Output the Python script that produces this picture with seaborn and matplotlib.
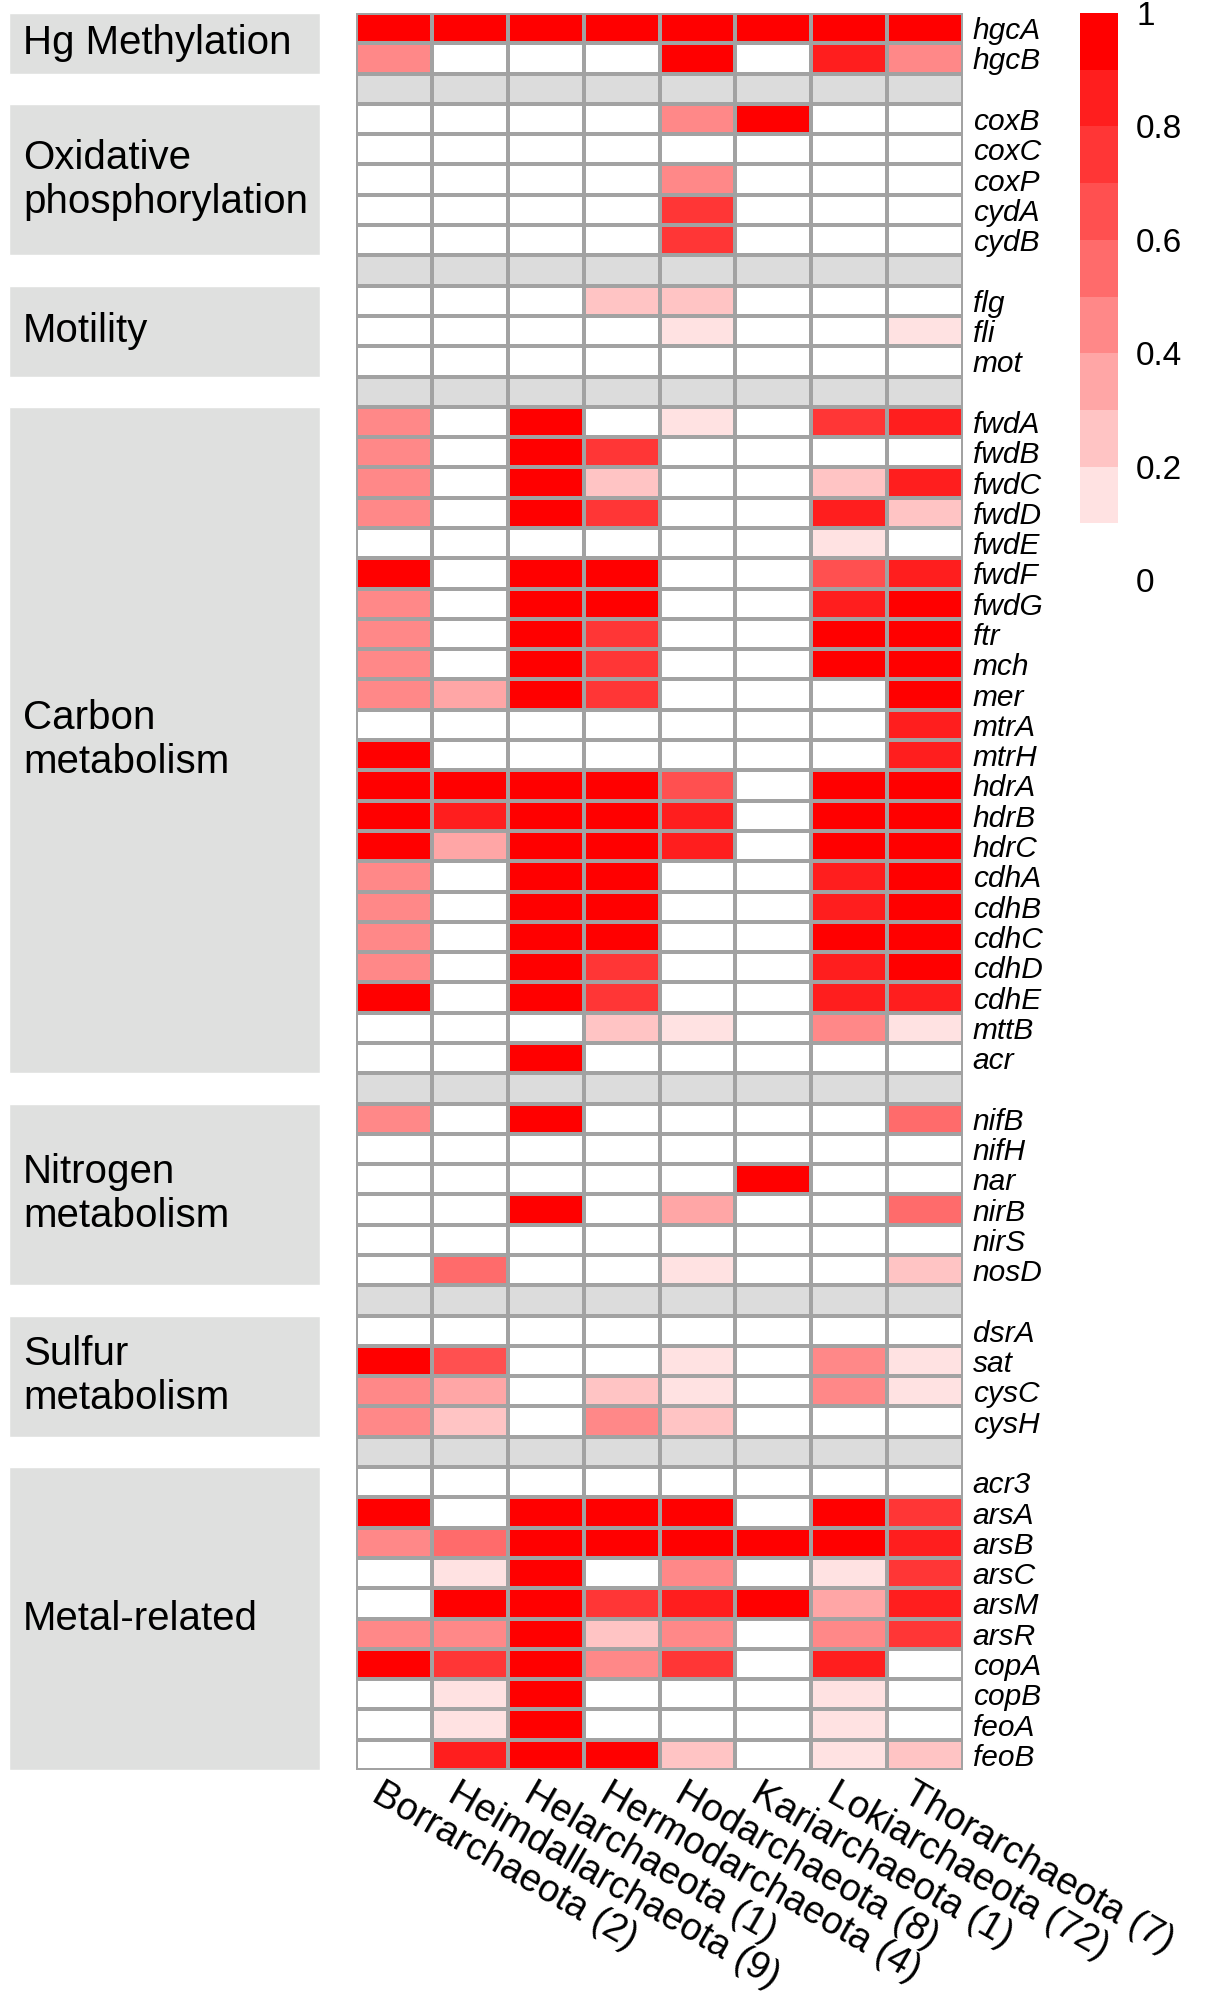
import numpy as np
import pandas as pd
import matplotlib
matplotlib.use("Agg")
import matplotlib.pyplot as plt
from matplotlib.colors import ListedColormap
from matplotlib.transforms import ScaledTranslation
import seaborn as sns

# ---------------- data ----------------
lineages = ["Borrarchaeota (2)", "Heimdallarchaeota (9)", "Helarchaeota (1)",
            "Hermodarchaeota (4)", "Hodarchaeota (8)", "Kariarchaeota (1)",
            "Lokiarchaeota (72)", "Thorarchaeota (7)"]

group_names = ["Hg Methylation", "Oxidative\nphosphorylation", "Motility",
               "Carbon\nmetabolism", "Nitrogen\nmetabolism", "Sulfur\nmetabolism",
               "Metal-related"]

hg_genes = ["hgcA", "hgcB"]
hg_vals = [
    [1, 1, 1, 1, 1, 1, 1, 1],
    [0.45, 0, 0, 0, 1, 0, 0.85, 0.45],
]

ox_genes = ["coxB", "coxC", "coxP", "cydA", "cydB"]
ox_vals = [
    [0, 0, 0, 0, 0.45, 1, 0, 0],
    [0, 0, 0, 0, 0, 0, 0, 0],
    [0, 0, 0, 0, 0.45, 0, 0, 0],
    [0, 0, 0, 0, 0.75, 0, 0, 0],
    [0, 0, 0, 0, 0.75, 0, 0, 0],
]

mot_genes = ["flg", "fli", "mot"]
mot_vals = [
    [0, 0, 0, 0.25, 0.25, 0, 0, 0],
    [0, 0, 0, 0, 0.15, 0, 0, 0.15],
    [0, 0, 0, 0, 0, 0, 0, 0],
]

carb_genes = ["fwdA", "fwdB", "fwdC", "fwdD", "fwdE", "fwdF", "fwdG", "ftr", "mch",
              "mer", "mtrA", "mtrH", "hdrA", "hdrB", "hdrC", "cdhA", "cdhB", "cdhC",
              "cdhD", "cdhE", "mttB", "acr"]
carb_vals = [
    [0.45, 0, 1, 0, 0.15, 0, 0.75, 0.85],
    [0.45, 0, 1, 0.75, 0, 0, 0, 0],
    [0.45, 0, 1, 0.25, 0, 0, 0.25, 0.85],
    [0.45, 0, 1, 0.75, 0, 0, 0.85, 0.25],
    [0, 0, 0, 0, 0, 0, 0.15, 0],
    [1, 0, 1, 1, 0, 0, 0.65, 0.85],
    [0.45, 0, 1, 1, 0, 0, 0.85, 1],
    [0.45, 0, 1, 0.75, 0, 0, 1, 1],
    [0.45, 0, 1, 0.75, 0, 0, 1, 1],
    [0.45, 0.35, 1, 0.75, 0, 0, 0, 1],
    [0, 0, 0, 0, 0, 0, 0, 0.85],
    [1, 0, 0, 0, 0, 0, 0, 0.85],
    [1, 1, 1, 1, 0.65, 0, 1, 1],
    [1, 0.85, 1, 1, 0.85, 0, 1, 1],
    [1, 0.35, 1, 1, 0.85, 0, 1, 1],
    [0.45, 0, 1, 1, 0, 0, 0.85, 1],
    [0.45, 0, 1, 1, 0, 0, 0.85, 1],
    [0.45, 0, 1, 1, 0, 0, 1, 1],
    [0.45, 0, 1, 0.75, 0, 0, 0.85, 1],
    [1, 0, 1, 0.75, 0, 0, 0.85, 0.85],
    [0, 0, 0, 0.25, 0.15, 0, 0.45, 0.15],
    [0, 0, 1, 0, 0, 0, 0, 0],
]

nit_genes = ["nifB", "nifH", "nar", "nirB", "nirS", "nosD"]
nit_vals = [
    [0.45, 0, 1, 0, 0, 0, 0, 0.55],
    [0, 0, 0, 0, 0, 0, 0, 0],
    [0, 0, 0, 0, 0, 1, 0, 0],
    [0, 0, 1, 0, 0.35, 0, 0, 0.55],
    [0, 0, 0, 0, 0, 0, 0, 0],
    [0, 0.55, 0, 0, 0.15, 0, 0, 0.25],
]

sul_genes = ["dsrA", "sat", "cysC", "cysH"]
sul_vals = [
    [0, 0, 0, 0, 0, 0, 0, 0],
    [1, 0.65, 0, 0, 0.15, 0, 0.45, 0.15],
    [0.45, 0.35, 0, 0.25, 0.15, 0, 0.45, 0.15],
    [0.45, 0.25, 0, 0.45, 0.25, 0, 0, 0],
]

met_genes = ["acr3", "arsA", "arsB", "arsC", "arsM", "arsR", "copA", "copB", "feoA", "feoB"]
met_vals = [
    [0, 0, 0, 0, 0, 0, 0, 0],
    [1, 0, 1, 1, 1, 0, 1, 0.75],
    [0.45, 0.55, 1, 1, 1, 1, 1, 0.85],
    [0, 0.15, 1, 0, 0.45, 0, 0.15, 0.75],
    [0, 1, 1, 0.75, 0.85, 1, 0.35, 0.85],
    [0.45, 0.45, 1, 0.25, 0.45, 0, 0.45, 0.75],
    [1, 0.75, 1, 0.45, 0.75, 0, 0.85, 0],
    [0, 0.15, 1, 0, 0, 0, 0.15, 0],
    [0, 0.15, 1, 0, 0, 0, 0.15, 0],
    [0, 0.85, 1, 1, 0.25, 0, 0.15, 0.25],
]

group_genes = [hg_genes, ox_genes, mot_genes, carb_genes, nit_genes, sul_genes, met_genes]
group_vals = [hg_vals, ox_vals, mot_vals, carb_vals, nit_vals, sul_vals, met_vals]

level_colors = ["#FFFFFF", "#FFE2E2", "#FFC4C4", "#FFA6A6", "#FF8888",
                "#FF6B6B", "#FF5050", "#FF3636", "#FF1E1E", "#FF0000"]
cbar_ticks = [0, 0.2, 0.4, 0.6, 0.8, 1]
cbar_ticklabels = ["0", "0.2", "0.4", "0.6", "0.8", "1"]

# ---------------- assemble (separator rows get -1 -> grey "under" colour) ----------------
SEP = -1.0
rows, labels, spans = [], [], []
for gi, (genes, vals) in enumerate(zip(group_genes, group_vals)):
    start = len(rows)
    rows.extend(vals)
    labels.extend(genes)
    spans.append((start, len(genes)))
    if gi < len(group_genes) - 1:
        rows.append([SEP] * len(lineages))
        labels.append("")
mat = pd.DataFrame(np.array(rows, dtype=float), columns=lineages)

# ---------------- style ----------------
sns.set_style("white")
plt.rcParams["font.family"] = ["Liberation Sans", "DejaVu Sans"]
plt.rcParams["text.color"] = "black"
plt.rcParams["xtick.color"] = "black"
plt.rcParams["ytick.color"] = "black"
plt.rcParams["xtick.labelcolor"] = "black"
plt.rcParams["ytick.labelcolor"] = "black"

cmap = ListedColormap(level_colors)
cmap.set_under("#DCDCDC")

W, H = 1209, 2000
fig = plt.figure(figsize=(W / 100, H / 100), dpi=100)

def fax(x0, y0, x1, y1):
    return fig.add_axes([x0 / W, 1 - y1 / H, (x1 - x0) / W, (y1 - y0) / H])

ax = fax(356, 13, 963, 1770)
cax = fax(1080, 13, 1118, 580)
lax = fax(9, 13, 320, 1770)

sns.heatmap(mat, ax=ax, cbar_ax=cax, cmap=cmap, vmin=0, vmax=1,
            linewidths=1.5, linecolor="#A2A2A2",
            xticklabels=True, yticklabels=True,
            cbar_kws={"ticks": cbar_ticks})

# gene labels on the right
ax.yaxis.tick_right()
ax.set_yticks(np.arange(len(labels)) + 0.5)
ax.set_yticklabels(labels, rotation=0, fontsize=21.5, fontstyle="italic",
                   color="black",
                   family=["Liberation Sans Narrow", "Liberation Sans", "DejaVu Sans"])
ax.tick_params(axis="y", length=0, pad=7)

# lineage labels, rotated
ax.set_xticks(np.arange(len(lineages)) + 0.5)
ax.set_xticklabels(lineages, rotation=-30, ha="left", va="top",
                   rotation_mode="anchor", fontsize=27.5, color="black")
ax.tick_params(axis="x", length=0, pad=0)
off = ScaledTranslation(-0.10, -0.06, fig.dpi_scale_trans)
for lbl in ax.get_xticklabels():
    lbl.set_transform(lbl.get_transform() + off)
ax.set_xlabel("")
ax.set_ylabel("")

# colour bar
cbar = ax.collections[0].colorbar
cbar.outline.set_visible(False)
cbar.set_ticks(cbar_ticks)
cbar.set_ticklabels(cbar_ticklabels)
cax.tick_params(length=0, labelsize=24, pad=13, labelcolor="black")

# category boxes on the left
lax.set_ylim(ax.get_ylim())
lax.set_xlim(0, 1)
centers = [s + n / 2 for s, n in spans]
heights = [n for s, n in spans]
lax.barh(centers, width=1, height=heights, left=0, color="#DFE0DF", align="center")
for name, c in zip(group_names, centers):
    lax.text(0.045, c, name, ha="left", va="center", fontsize=29, linespacing=1.2,
             color="black")
lax.axis("off")

fig.savefig("out.png", dpi=100, facecolor="white")
